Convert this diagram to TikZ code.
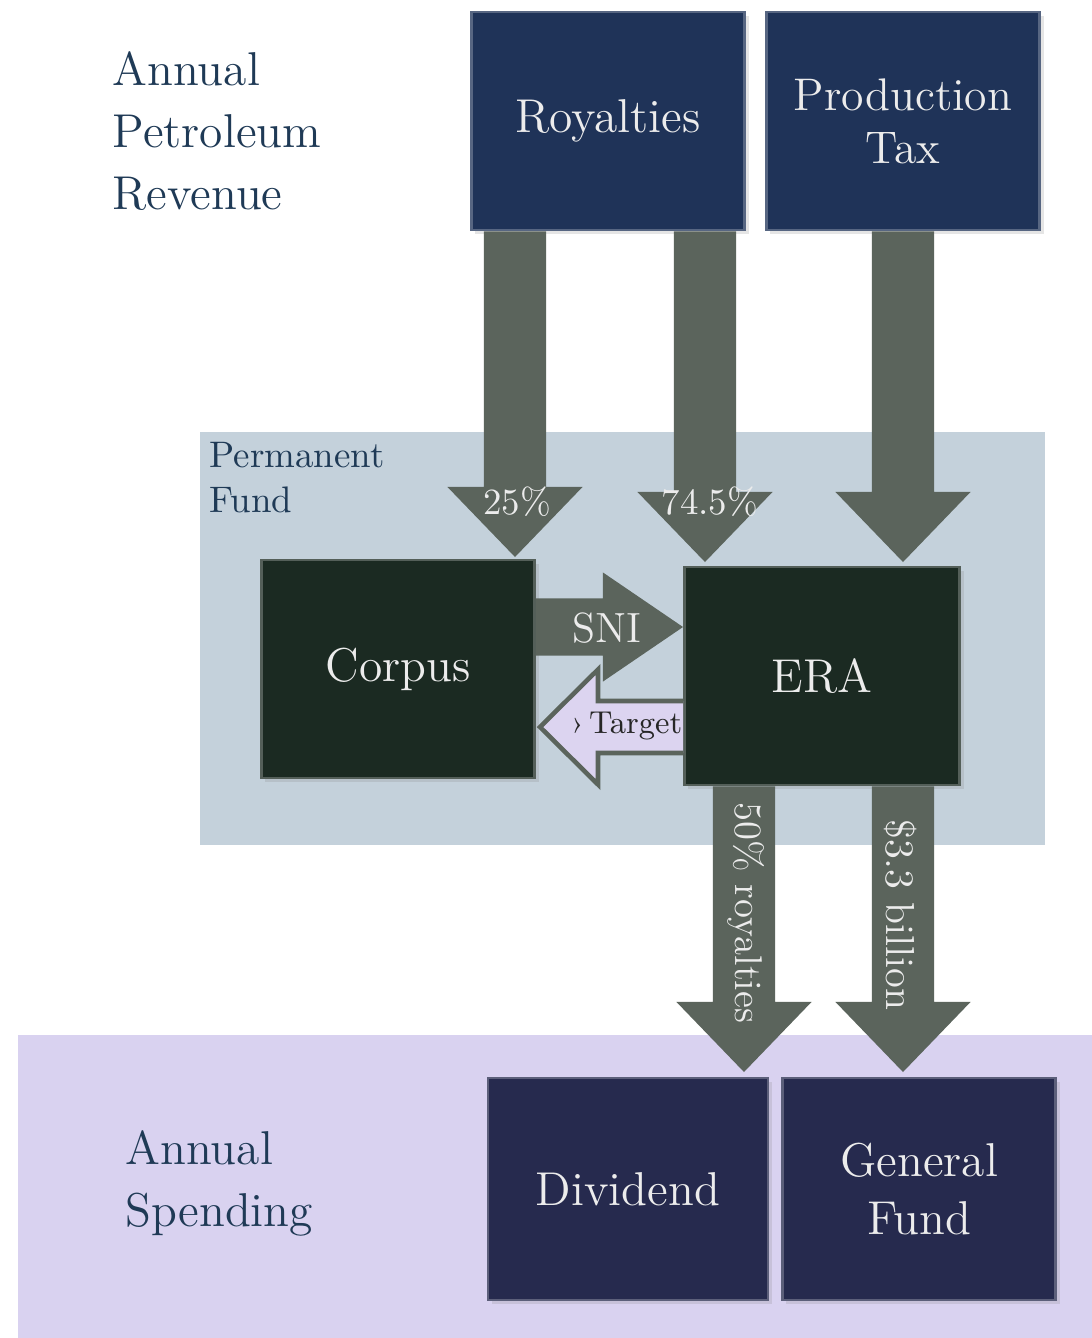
\documentclass[tikz,border=0pt]{standalone}
\usepackage{tikz}
\usetikzlibrary{calc, positioning, shadows}
\definecolor{navy}{HTML}{1F3358}
\definecolor{forest}{HTML}{1B2A22}
\definecolor{indigo}{HTML}{262A4E}
\definecolor{headtext}{HTML}{1F3A56}
\definecolor{fundbg}{HTML}{C4D1DB}
\definecolor{spendbg}{HTML}{D9D2F0}
\definecolor{flow}{HTML}{5B645C}
\definecolor{boxtext}{HTML}{ECECEC}
\definecolor{targetfill}{HTML}{DCD4F0}

% block arrow pointing down: #1 source anchor, #2 tip
\newcommand{\flowdown}[2]{%
  \fill[flow] let \p1=(#1), \p2=(#2) in
    (\x2-0.31cm,\y1) -- (\x2-0.31cm,\y2+0.7cm) -- (\x2-0.675cm,\y2+0.7cm)
    -- (\p2) -- (\x2+0.675cm,\y2+0.7cm) -- (\x2+0.31cm,\y2+0.7cm)
    -- (\x2+0.31cm,\y1) -- cycle;}

\begin{document}
\begin{tikzpicture}[x=0.01cm, y=-0.01cm,
    box/.style={rectangle, fill=#1, draw=#1!75!white, line width=0.8pt, text=boxtext, align=center,
        minimum width=2.73cm, minimum height=2.18cm, inner sep=2pt,
        font=\fontsize{13.5}{15.5}\selectfont,
        drop shadow={opacity=0.2, shadow xshift=0.04cm, shadow yshift=-0.04cm}},
    heading/.style={text=headtext, align=left, anchor=west, inner sep=0pt},
    flowlabel/.style={text=boxtext, inner sep=0pt, font=\fontsize{10.5}{12}\selectfont}]
    % Background
    \fill[white] (0,0) rectangle (1092,1338);
    \useasboundingbox (0,0) rectangle (1092,1338);
    \fill[fundbg] (200,432) rectangle (1045,845);
    \fill[spendbg] (18,1035) rectangle (1092,1338);

    % Headings
    \node (revenue) [heading, font=\fontsize{13.5}{17.6}\selectfont] at (112,131) {Annual\\Petroleum\\Revenue};
    \node (fund) [heading, font=\fontsize{10.5}{12.8}\selectfont] at (209,478) {Permanent\\Fund};
    \node (spending) [heading, font=\fontsize{13.5}{17.6}\selectfont] at (125,1183) {Annual\\Spending};

    % Nodes
    \node (royalties) [box=navy] at (608,121) {Royalties};
    \node (prodtax) [box=navy, font=\fontsize{13}{15}\selectfont] at (903,121) {Production\\Tax};
    \node (corpus) [box=forest] at (398,669) {Corpus};
    \node (era) [box=forest, minimum width=2.75cm] at (822,676) {ERA};
    \node (dividend) [box=indigo, minimum width=2.8cm, minimum height=2.22cm] at (628,1189) {Dividend};
    \node (genfund) [box=indigo, minimum height=2.22cm, font=\fontsize{13.5}{16.5}\selectfont] at (919,1189) {General\\Fund};

    % Arrow tips
    \coordinate (corpusTip) at (515,557);
    \coordinate (eraTip) at (705,562);
    \coordinate (taxTip) at (903,562);
    \coordinate (sniTip) at (era.west |- 0,627);
    \coordinate (targetTip) at (540,727);
    \coordinate (dividendTip) at (744,1072);
    \coordinate (genfundTip) at (903,1072);

    % Arrows
    \flowdown{royalties.south}{corpusTip}
    \flowdown{royalties.south}{eraTip}
    \flowdown{prodtax.south}{taxTip}
    \flowdown{era.south}{dividendTip}
    \flowdown{era.south}{genfundTip}
    \fill[flow] let \p1=(corpus.east), \p2=(sniTip) in
        (\x1,\y2+0.285cm) -- (\x2-0.8cm,\y2+0.285cm) -- (\x2-0.8cm,\y2+0.545cm) -- (\p2)
        -- (\x2-0.8cm,\y2-0.545cm) -- (\x2-0.8cm,\y2-0.285cm) -- (\x1,\y2-0.285cm) -- cycle;
    \draw[fill=targetfill, draw=flow, line width=1.3pt, line join=miter] let \p1=(era.west), \p2=(targetTip) in
        (\x1,\y2+0.26cm) -- (\x2+0.58cm,\y2+0.26cm) -- (\x2+0.58cm,\y2+0.575cm) -- (\p2)
        -- (\x2+0.58cm,\y2-0.575cm) -- (\x2+0.58cm,\y2-0.26cm) -- (\x1,\y2-0.26cm);

    % Arrow labels
    \node (lab25) [flowlabel] at (517,502) {25\%};
    \node (lab745) [flowlabel] at (710,502) {74.5\%};
    \node (labsni) [flowlabel, font=\fontsize{12}{14}\selectfont] at (607,628) {SNI};
    \node (labtarget) [flowlabel, text=black!85, font=\fontsize{9}{11}\selectfont, anchor=east] at (683,726) {›\,Target};
    \node (labroyal) [flowlabel, rotate=-90, font=\fontsize{11}{13}\selectfont] at (746,913) {50\% royalties};
    \node (labbillion) [flowlabel, rotate=-90, font=\fontsize{11.5}{13}\selectfont] at (901,915) {\$3.3 billion};
\end{tikzpicture}
\end{document}
